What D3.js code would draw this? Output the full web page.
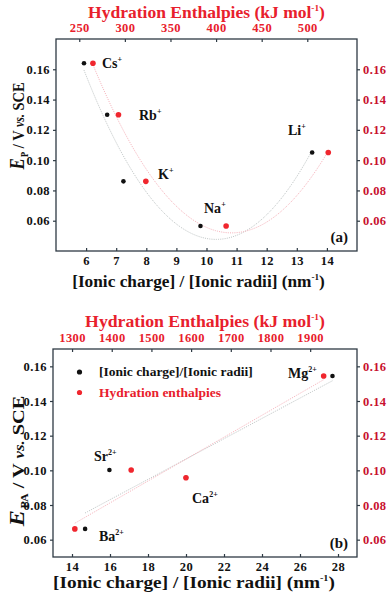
<!DOCTYPE html>
<html><head><meta charset="utf-8">
<script src="https://cdn.jsdelivr.net/npm/d3@7"></script>
<style>
body{margin:0;background:#fff;}
text{font-family:"Liberation Serif","DejaVu Serif",serif;font-weight:bold;}
</style></head>
<body><svg id="c" width="387" height="594"></svg>
<script>
// Panel (a): monovalent cations
const ionsA = ["Cs", "Rb", "K", "Na", "Li"];
const chargeRadiusA = [5.93, 6.70, 7.24, 9.80, 13.51];
const enthalpyA = [265, 293, 323, 411, 523];
const epA = [0.164, 0.130, 0.086, 0.0565, 0.105];
const xTicksA = [6, 7, 8, 9, 10, 11, 12, 13, 14];
const topTicksA = [250, 300, 350, 400, 450, 500];
const yTicks = [0.06, 0.08, 0.10, 0.12, 0.14, 0.16];

// Panel (b): divalent cations
const ionsB = ["Mg", "Sr", "Ba", "Ca"];
const chargeRadiusB = [27.71, 15.97, 14.69, 20.0];
const enthalpyB = [1934, 1449, 1307, 1587];
const epB = [0.1544, 0.1002, 0.0662, 0.0957];
const xTicksB = [14, 16, 18, 20, 22, 24, 26, 28];
const topTicksB = [1300, 1400, 1500, 1600, 1700, 1800, 1900];

const RED = "#e8202c", DRED = "#c8102e", AX = "#2e3a44";
const svg = d3.select("#c");

function polyfit(xs, ys, deg) {
  const n = deg + 1;
  const m = d3.mean(xs), s = d3.deviation(xs);
  const zs = xs.map(v => (v - m) / s);
  const A = Array.from({length: n}, () => new Array(n + 1).fill(0));
  zs.forEach((z, k) => {
    for (let i = 0; i < n; i++) {
      for (let j = 0; j < n; j++) A[i][j] += Math.pow(z, i + j);
      A[i][n] += ys[k] * Math.pow(z, i);
    }
  });
  for (let i = 0; i < n; i++) {
    let p = i;
    for (let r = i + 1; r < n; r++) { if (Math.abs(A[r][i]) > Math.abs(A[p][i])) p = r; }
    const tmp = A[i]; A[i] = A[p]; A[p] = tmp;
    for (let r = 0; r < n; r++) {
      if (r === i) continue;
      const f = A[r][i] / A[i][i];
      for (let c = i; c <= n; c++) A[r][c] -= f * A[i][c];
    }
  }
  const coef = A.map((row, i) => row[n] / row[i]);
  return x => { const z = (x - m) / s; return coef.reduce((acc, c, i) => acc + c * Math.pow(z, i), 0); };
}

// scale a text horizontally (along its own direction) to a target length
function fitText(t, target) {
  const w = t.node().getBBox().width;
  return w > 0 ? target / w : 1;
}

function panel(o) {
  const g = svg.append("g");
  const x = d3.scaleLinear().domain(o.xDom).range([o.L, o.R]);
  const xt = d3.scaleLinear().domain(o.tDom).range([o.L, o.R]);
  const y = d3.scaleLinear().domain(o.yDom).range([o.B, o.T]);

  g.append("rect").attr("x", o.L).attr("y", o.T).attr("width", o.R - o.L).attr("height", o.B - o.T)
    .attr("fill", "none").attr("stroke", AX).attr("stroke-width", 1.3);

  const styleAxis = (sel, col) => {
    sel.select(".domain").remove();
    sel.selectAll(".tick line").attr("stroke", AX).attr("stroke-width", 1.2);
    sel.selectAll(".tick text").attr("fill", col).style("font-size", "12.5px").style("letter-spacing", "0.4px");
  };
  g.append("g").attr("transform", `translate(0,${o.B})`)
    .call(d3.axisBottom(x).tickValues(o.xTicks).tickSize(-3).tickPadding(5).tickFormat(d3.format("d")))
    .call(s => styleAxis(s, "#111"));
  g.append("g").attr("transform", `translate(0,${o.T})`)
    .call(d3.axisTop(xt).tickValues(o.topTicks).tickSize(-3).tickPadding(7).tickFormat(d3.format("d")))
    .call(s => styleAxis(s, RED));
  g.append("g").attr("transform", `translate(${o.L},0)`)
    .call(d3.axisLeft(y).tickValues(yTicks).tickSize(3).tickPadding(3).tickFormat(d3.format(".2f")))
    .call(s => styleAxis(s, "#111"));
  g.append("g").attr("transform", `translate(${o.R},0)`)
    .call(d3.axisRight(y).tickValues(yTicks).tickSize(3).tickPadding(3).tickFormat(d3.format(".2f")))
    .call(s => styleAxis(s, DRED));

  // fits
  const fb = polyfit(o.cr, o.ep, o.deg), fr = polyfit(o.en, o.ep, o.deg);
  const line = (sc, f, ext) => d3.line()(d3.range(0, 101).map(i => {
    const v = ext[0] + (ext[1] - ext[0]) * i / 100; return [sc(v), y(f(v))];
  }));
  g.append("path").attr("d", line(x, fb, d3.extent(o.cr))).attr("fill", "none")
    .attr("stroke", "#bcc2c2").attr("stroke-width", 1).attr("stroke-dasharray", "1,1.2");
  g.append("path").attr("d", line(xt, fr, d3.extent(o.en))).attr("fill", "none")
    .attr("stroke", "#f6b0b9").attr("stroke-width", 1).attr("stroke-dasharray", "1,1.2");

  // points
  g.selectAll(".pb").data(o.cr).join("circle").attr("cx", d => x(d)).attr("cy", (d, i) => y(o.ep[i]))
    .attr("r", 2.3).attr("fill", "#111");
  g.selectAll(".pr").data(o.en).join("circle").attr("cx", d => xt(d)).attr("cy", (d, i) => y(o.ep[i]))
    .attr("r", 2.8).attr("fill", "#f0262e");

  // ion labels
  o.ions.forEach((ion, i) => {
    const t = g.append("text").attr("x", o.lab[i][0]).attr("y", o.lab[i][1]).style("font-size", "14px").attr("fill", "#111");
    t.append("tspan").text(ion);
    t.append("tspan").text(o.sup).attr("dy", -6).style("font-size", "8px");
  });
  g.append("text").attr("x", o.R - 9).attr("y", o.B - 9).attr("text-anchor", "end")
    .style("font-size", "15px").attr("fill", "#111").text(o.tag);

  // bottom title
  const bt = g.append("text").attr("text-anchor", "middle").style("font-size", "17px").attr("fill", "#111");
  bt.append("tspan").text("[Ionic charge] / [Ionic radii] (nm");
  bt.append("tspan").text("-1").attr("dy", -7).style("font-size", "9px");
  bt.append("tspan").text(")").attr("dy", 7);
  bt.attr("transform", `translate(${(o.bx[0] + o.bx[1]) / 2},${o.by}) scale(${fitText(bt, o.bx[1] - o.bx[0])},1)`);

  // top title
  const tt = g.append("text").attr("text-anchor", "middle").style("font-size", "17px").attr("fill", RED);
  tt.append("tspan").text("Hydration Enthalpies (kJ mol");
  tt.append("tspan").text("-1").attr("dy", -7).style("font-size", "9px");
  tt.append("tspan").text(")").attr("dy", 7);
  tt.attr("transform", `translate(${(o.tx[0] + o.tx[1]) / 2},${o.ty}) scale(${fitText(tt, o.tx[1] - o.tx[0])},1)`);

  // y title
  const yt = g.append("text").attr("text-anchor", "middle").style("font-size", "17px").attr("fill", "#111");
  yt.append("tspan").text("E").style("font-style", "italic").style("font-size", "20px");
  yt.append("tspan").text(o.sub).attr("dx", 1.5).attr("dy", 4).style("font-size", "10px");
  yt.append("tspan").text(" / V ").attr("dy", -4);
  yt.append("tspan").text("vs.").style("font-style", "italic").style("font-size", "14px");
  yt.append("tspan").text(" SCE");
  yt.attr("transform", `translate(${o.yx},${o.yc}) rotate(-90) scale(${fitText(yt, o.yLen)},1)`);
  return g;
}

panel({
  L: 56, R: 357, T: 39, B: 251,
  xDom: [5, 15], tDom: [224.5, 554.5], yDom: [0.04, 0.18],
  xTicks: xTicksA, topTicks: topTicksA,
  cr: chargeRadiusA, en: enthalpyA, ep: epA, deg: 2,
  ions: ionsA, sup: "+",
  lab: [[102, 68], [139, 120], [158, 179], [204, 213], [288, 135]],
  tag: "(a)", sub: "P",
  bx: [72, 325], by: 287, tx: [88, 325], ty: 18, yx: 24, yc: 126, yLen: 88
});

const gb = panel({
  L: 53, R: 357, T: 349, B: 557,
  xDom: [13, 29], tDom: [1252, 2018], yDom: [0.05, 0.17],
  xTicks: xTicksB, topTicks: topTicksB,
  cr: chargeRadiusB, en: enthalpyB, ep: epB, deg: 1,
  ions: ionsB, sup: "2+",
  lab: [[288, 378], [94, 461], [99, 541], [192, 503]],
  tag: "(b)", sub: "PA",
  bx: [53, 335], by: 588, tx: [85, 325], ty: 327, yx: 24, yc: 461, yLen: 132
});

// legend (b)
const legend = [["[Ionic charge]/[Ionic radii]", "#111", "#111"], ["Hydration enthalpies", "#f0262e", RED]];
legend.forEach((l, i) => {
  const yy = 372 + i * 20.5;
  gb.append("circle").attr("cx", 79.5).attr("cy", yy).attr("r", 2.6).attr("fill", l[1]);
  gb.append("text").attr("x", 99).attr("y", yy + 4).style("font-size", "13.5px").attr("fill", l[2]).text(l[0]);
});
</script></body></html>
